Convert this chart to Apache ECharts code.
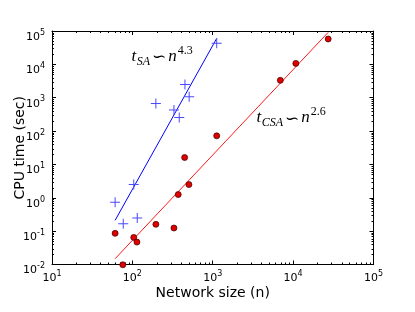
<!DOCTYPE html>
<html><head><meta charset="utf-8">
<script src="https://cdn.jsdelivr.net/npm/echarts@6/dist/echarts.min.js"></script>
<style>html,body{margin:0;padding:0;background:#fff}#c{width:415px;height:312px}</style>
</head><body><div id="c"></div>
<script>
// ---- data ----
const saSize = [1120, 451, 509, 196, 329, 383, 104, 61, 77, 115];
const saTime = [43000, 2500, 1060, 675, 425, 256, 2.49, 0.73, 0.168, 0.247];
const csaSize = [1120, 447, 505, 372, 196, 329, 61, 104, 114, 76, 27300, 10800, 6930];
const csaTime = [72, 16.1, 2.49, 1.25, 0.16, 0.124, 0.086, 0.065, 0.047, 0.0098, 57500, 10700, 3310];
const saFitSize = [61, 1120];
const saFitTime = [0.211, 60000];
const csaFitSize = [61, 27300];
const csaFitTime = [0.0149, 91000];
const xTickExp = ['1', '2', '3', '4', '5'];
const yTickExp = ['-2', '-1', '0', '1', '2', '3', '4', '5'];
const xName = 'Network size (n)';
const yName = 'CPU time (sec)';

// ---- minor tick positions (2..9 per decade) ----
const xMinor = [], yMinor = [];
for (let k = 1; k <= 4; k++) for (let m = 2; m <= 9; m++) xMinor.push(m * Math.pow(10, k));
for (let k = -2; k <= 4; k++) for (let m = 2; m <= 9; m++) yMinor.push(+(m * Math.pow(10, k)).toPrecision(6));

const pair = (a, b) => a.map((v, i) => [v, b[i]]);
const FONT = 'DejaVu Sans';
const tickRich = {
  b: { fontSize: 11, fontFamily: FONT, color: '#000', lineHeight: 11, verticalAlign: 'top', padding: [6, 0, 0, 0] },
  s: { fontSize: 8, fontFamily: FONT, color: '#000', lineHeight: 8, verticalAlign: 'top', padding: [3.2, 0, 0, 0] }
};
const expOf = v => Math.round(Math.log10(v));

const chart = echarts.init(document.getElementById('c'), null, { renderer: 'canvas' });
const axisCommon = {
  type: 'log', logBase: 10,
  axisLine: { show: true, lineStyle: { color: '#000', width: 1 } },
  axisTick: { show: true, inside: true, length: 4, lineStyle: { color: '#000', width: 1 } },
  splitLine: { show: false }
};
const annRich = {
  m: { fontSize: 17, fontFamily: 'Liberation Serif', fontStyle: 'italic', color: '#000', lineHeight: 17, verticalAlign: 'top', padding: [3.7, 0, 0, 0] },
  sub: { fontSize: 12, fontFamily: 'Liberation Serif', fontStyle: 'italic', color: '#000', lineHeight: 12, verticalAlign: 'top', padding: [11.6, 0, 0, 0.5] },
  sup: { fontSize: 12, fontFamily: 'Liberation Serif', color: '#000', lineHeight: 12, verticalAlign: 'top', padding: [0.9, 0, 0, 1] },
  sim: { fontSize: 17, fontFamily: 'DejaVu Sans', color: '#000', lineHeight: 17, verticalAlign: 'top', padding: [5.3, 2, 0, 2] }
};

chart.setOption({
  animation: false,
  backgroundColor: '#fff',
  grid: { left: 52, right: 41.5, top: 31, bottom: 47.5, containLabel: false, outerBoundsMode: 'none' },
  xAxis: [
    Object.assign({}, axisCommon, {
      min: 10, max: 100000, position: 'bottom',
      name: xName, nameLocation: 'middle', nameGap: 21.5, nameMoveOverlap: false,
      nameTextStyle: { fontSize: 14, fontFamily: FONT, color: '#000', verticalAlign: 'top' },
      axisLabel: { show: true, margin: 2.5, rich: tickRich,
        formatter: v => '{b|10}{s|' + xTickExp[expOf(v) - 1] + '}' }
    }),
    Object.assign({}, axisCommon, {
      min: 10, max: 100000, position: 'top', axisLabel: { show: false }
    })
  ],
  yAxis: [
    Object.assign({}, axisCommon, {
      min: 0.01, max: 100000, position: 'left',
      name: yName, nameLocation: 'middle', nameGap: 24.5, nameMoveOverlap: false,
      nameTextStyle: { fontSize: 14, fontFamily: FONT, color: '#000' },
      axisLabel: { show: true, margin: 7, rich: tickRich,
        formatter: v => '{b|10}{s|' + yTickExp[expOf(v) + 2] + '}' }
    }),
    Object.assign({}, axisCommon, {
      min: 0.01, max: 100000, position: 'right', axisLabel: { show: false }
    })
  ],
  series: [
    {
      type: 'custom', silent: true, clip: false, z: 1,
      data: xMinor.map(v => [v, 1]),
      renderItem: (params, api) => {
        const cs = params.coordSys;
        const x = Math.round(api.coord([api.value(0), 1])[0]) + 0.5;
        const yb = cs.y + cs.height, yt = cs.y;
        return { type: 'group', children: [
          { type: 'line', shape: { x1: x, y1: yb, x2: x, y2: yb - 2 }, style: { stroke: '#000', lineWidth: 1 } },
          { type: 'line', shape: { x1: x, y1: yt, x2: x, y2: yt + 2 }, style: { stroke: '#000', lineWidth: 1 } }
        ] };
      }
    },
    {
      type: 'custom', silent: true, clip: false, z: 1,
      data: yMinor.map(v => [100, v]),
      renderItem: (params, api) => {
        const cs = params.coordSys;
        const y = Math.round(api.coord([100, api.value(1)])[1]) + 0.5;
        const xl = cs.x, xr = cs.x + cs.width;
        return { type: 'group', children: [
          { type: 'line', shape: { x1: xl, y1: y, x2: xl + 2, y2: y }, style: { stroke: '#000', lineWidth: 1 } },
          { type: 'line', shape: { x1: xr, y1: y, x2: xr - 2, y2: y }, style: { stroke: '#000', lineWidth: 1 } }
        ] };
      }
    },
    {
      type: 'line', name: 'SA fit', data: pair(saFitSize, saFitTime), showSymbol: false, silent: true,
      lineStyle: { color: '#0000ff', width: 1 }, z: 2
    },
    {
      type: 'line', name: 'CSA fit', data: pair(csaFitSize, csaFitTime), showSymbol: false, silent: true,
      lineStyle: { color: '#ff1a1a', width: 1 }, z: 2
    },
    {
      type: 'scatter', name: 'SA', data: pair(saSize, saTime), clip: false,
      symbol: 'path://M4.5 0H5.5V4.5H10V5.5H5.5V10H4.5V5.5H0V4.5H4.5Z', symbolSize: 10,
      itemStyle: { color: '#4a4aff', opacity: 1 }, z: 3
    },
    {
      type: 'scatter', name: 'CSA', data: pair(csaSize, csaTime), clip: false,
      symbol: 'circle', symbolSize: 6,
      itemStyle: { color: '#e00000', borderColor: '#3a0000', borderWidth: 0.7, opacity: 1 }, z: 4
    }
  ],
  graphic: [
    { type: 'text', left: 131.5, top: 44, z: 10, silent: true,
      style: { text: '{m|t}{sub|SA}{sim|∽}{m|n}{sup|4.3}', rich: annRich } },
    { type: 'text', left: 256.5, top: 105.3, z: 10, silent: true,
      style: { text: '{m|t}{sub|CSA}{sim|∽}{m|n}{sup|2.6}', rich: annRich } }
  ]
});
</script>
</body></html>
